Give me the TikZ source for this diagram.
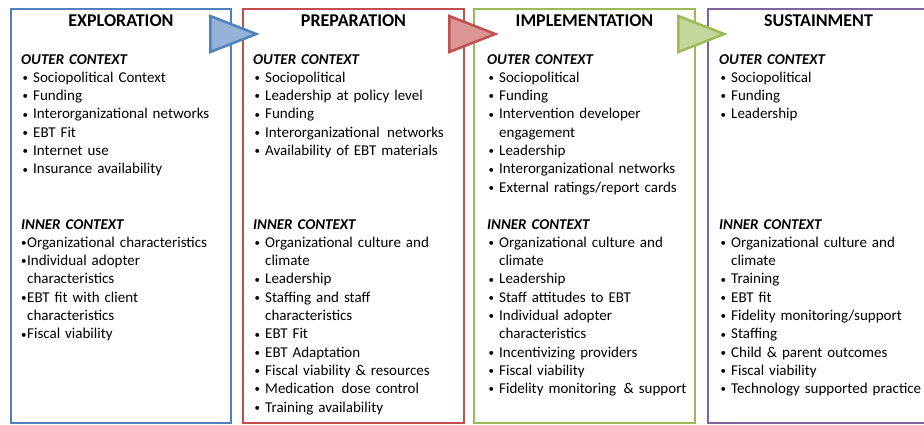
\documentclass[tikz,border=0pt]{standalone}
\usepackage{fontspec}
\setmainfont{Carlito}
\usepackage{tikz}
\usetikzlibrary{shapes.geometric}

\definecolor{explblue}{HTML}{4F81BD}
\definecolor{prepred}{HTML}{C0504D}
\definecolor{implgreen}{HTML}{9BBB59}
\definecolor{sustpurple}{HTML}{8064A2}

\newcommand{\bul}{\raisebox{0.8pt}{\fontsize{11}{11}\selectfont\textbullet}}
\newcommand{\itm}[1]{\par\hangindent=12pt\hangafter=1\noindent\hbox to 12pt{\hskip1.5pt\bul\hss}#1}
\newcommand{\titm}[1]{\par\hangindent=6pt\hangafter=1\noindent\hbox to 6pt{\bul\hss}#1}
\newcommand{\ctxhead}[1]{\noindent\textbf{\textit{#1}}}

\begin{document}
\begin{tikzpicture}[x=1pt,y=-1pt,
        phase/.style={draw=#1, line width=2pt, minimum width=221pt, minimum height=414pt, anchor=north west, inner sep=0pt},
        phasetitle/.style={font=\fontsize{18}{22}\selectfont\bfseries, anchor=base},
        ctx/.style={anchor=base west, inner sep=0pt, text width=215pt, align=left, font=\fontsize{15}{18.3}\selectfont},
        phasetri/.style={isosceles triangle, isosceles triangle stretches, draw=#1, fill=#1!60!white, line width=2.5pt, minimum width=36pt, minimum height=46pt, inner sep=0pt, anchor=west}]
        \useasboundingbox (0,0) rectangle (924,424);
        \clip (0,0) rectangle (924,424);

        \node[phase=explblue, minimum width=220pt] (expl) at (10,8) {};
        \node[phase=prepred] (prep) at (242,8) {};
        \node[phase=implgreen] (impl) at (473,8) {};
        \node[phase=sustpurple] (sust) at (707,8) {};

        \node[phasetitle] (explT) at ([yshift=-18pt]expl.north) {EXPLORATION};
        \node[phasetitle] (prepT) at ([yshift=-18pt]prep.north) {PREPARATION};
        \node[phasetitle] (implT) at ([yshift=-18pt]impl.north) {IMPLEMENTATION};
        \node[phasetitle] (sustT) at ([yshift=-18pt]sust.north) {SUSTAINMENT};

        \node[ctx] (explO) at ([xshift=11pt,yshift=-56pt]expl.north west) {\ctxhead{OUTER CONTEXT}
          \itm{Sociopolitical Context}
          \itm{Funding}
          \itm{Interorganizational networks}
          \itm{EBT Fit}
          \itm{Internet use}
          \itm{Insurance availability}};
        \node[ctx] (explI) at ([xshift=11pt,yshift=-221pt]expl.north west) {\ctxhead{INNER CONTEXT}
          \titm{Organizational characteristics}
          \titm{Individual adopter\newline characteristics}
          \titm{EBT fit with client\newline characteristics}
          \titm{Fiscal viability}};

        \node[ctx] (prepO) at ([xshift=11pt,yshift=-56pt]prep.north west) {\ctxhead{OUTER CONTEXT}
          \itm{Sociopolitical}
          \itm{Leadership at policy level}
          \itm{Funding}
          \itm{Interorganizational\enspace networks}
          \itm{Availability of EBT materials}};
        \node[ctx] (prepI) at ([xshift=11pt,yshift=-221pt]prep.north west) {\ctxhead{INNER CONTEXT}
          \itm{Organizational culture and\newline climate}
          \itm{Leadership}
          \itm{Staffing and staff\newline characteristics}
          \itm{EBT Fit}
          \itm{EBT Adaptation}
          \itm{Fiscal viability \& resources}
          \itm{Medication\enspace dose control}
          \itm{Training availability}};

        \node[ctx] (implO) at ([xshift=14pt,yshift=-56pt]impl.north west) {\ctxhead{OUTER CONTEXT}
          \itm{Sociopolitical}
          \itm{Funding}
          \itm{Intervention developer\newline engagement}
          \itm{Leadership}
          \itm{Interorganizational networks}
          \itm{External ratings/report cards}};
        \node[ctx] (implI) at ([xshift=14pt,yshift=-221pt]impl.north west) {\ctxhead{INNER CONTEXT}
          \itm{Organizational culture and\newline climate}
          \itm{Leadership}
          \itm{Staff attitudes to EBT}
          \itm{Individual adopter\newline characteristics}
          \itm{Incentivizing providers}
          \itm{Fiscal viability}
          \itm{Fidelity monitoring\enspace\& support}};

        \node[ctx] (sustO) at ([xshift=12pt,yshift=-56pt]sust.north west) {\ctxhead{OUTER CONTEXT}
          \itm{Sociopolitical}
          \itm{Funding}
          \itm{Leadership}};
        \node[ctx] (sustI) at ([xshift=12pt,yshift=-221pt]sust.north west) {\ctxhead{INNER CONTEXT}
          \itm{Organizational culture and\newline climate}
          \itm{Training}
          \itm{EBT fit}
          \itm{Fidelity monitoring/support}
          \itm{Staffing}
          \itm{Child \& parent outcomes}
          \itm{Fiscal viability}
          \itm{Technology supported practice}};

        \node[phasetri=explblue] (explA) at (209,34) {};
        \node[phasetri=prepred] (prepA) at (448,34) {};
        \node[phasetri=implgreen] (implA) at (677,34) {};
      \end{tikzpicture}
\end{document}
